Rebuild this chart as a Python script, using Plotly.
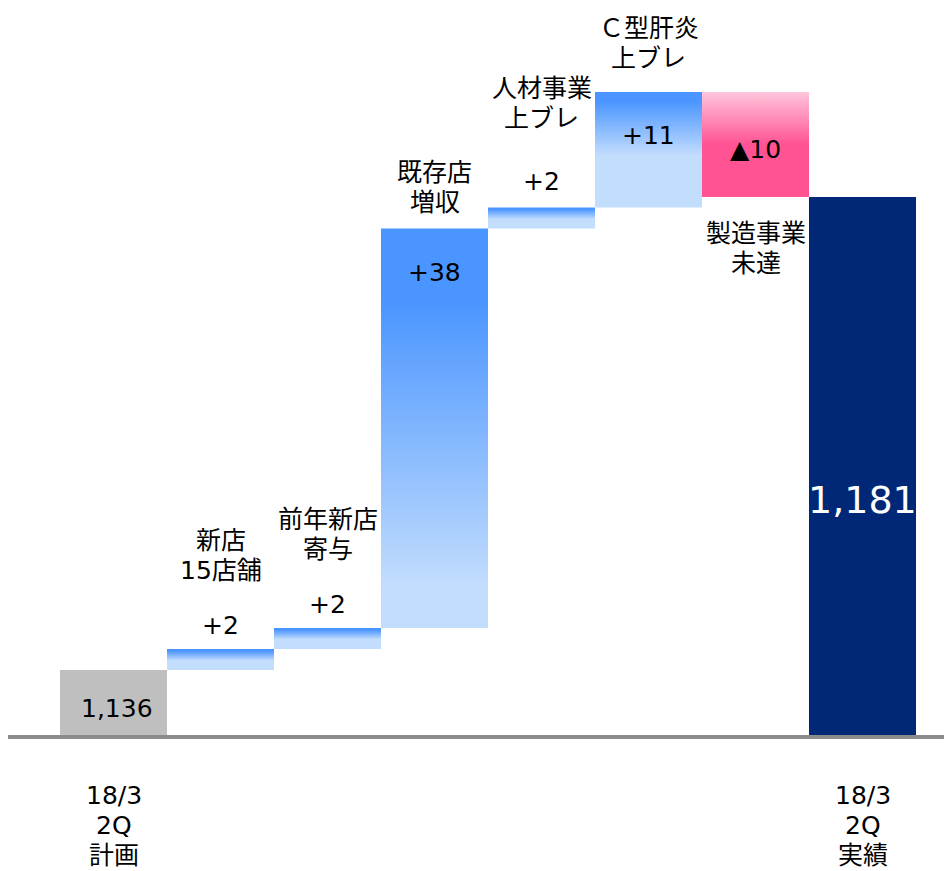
import plotly.graph_objects as go

# ---- data ----
categories = ["18/3 2Q 計画", "新店15店舗", "前年新店寄与", "既存店増収", "人材事業上ブレ",
              "Ｃ型肝炎上ブレ", "製造事業未達", "18/3 2Q 実績"]
category_labels = ["", "新店<br>15店舗", "前年新店<br>寄与", "既存店<br>増収", "人材事業<br>上ブレ",
                   "Ｃ型肝炎<br>上ブレ", "製造事業<br>未達", ""]
start_value = 1136
deltas = [2, 2, 38, 2, 11, -10]
end_value = 1181
value_texts = ["1,136", "+2", "+2", "+38", "+2", "+11", "▲10", "1,181"]
tick_labels = ["18/3<br>2Q<br>計画", "18/3<br>2Q<br>実績"]

# ---- style ----
FONT = "DejaVu Sans, Noto Sans CJK JP, sans-serif"
FS = 25
LINE = 30
BLUE_D = "#4a95ff"
BLUE_L = "#c3ddfd"
PINK_L = "#ffc6dd"
PINK_D = "#ff5394"
GRAY = "#bfbfbf"
NAVY = "#002876"
LABEL_EXTRA = [0, 0, 0, 0, 11, 7, 0, 0]
VALUE_EXTRA = [0, 0, 0, 0, 3, 0, 0, 0]

W, H = 944, 871
ML, MR, MT, MB = 8, 0, 0, 136
BAR_PX = 107.0
PX_PER_UNIT = 473 / 45.0
y_min = start_value - 65 / PX_PER_UNIT
y_max = y_min + (H - MT - MB) / PX_PER_UNIT
x_min = -105.5 / BAR_PX
x_max = x_min + (W - ML - MR) / BAR_PX

fig = go.Figure()
annotations = []


def add_lines(x, y, text, center_shift, size=FS, color="black", yref="y"):
    lines = text.split("<br>")
    n_l = len(lines)
    for j, ln in enumerate(lines):
        annotations.append(dict(x=x, y=y, xref="x", yref=yref, text=ln, showarrow=False,
                                yanchor="middle",
                                yshift=center_shift + ((n_l - 1) / 2 - j) * LINE,
                                font=dict(size=size, color=color)))


# start bar
fig.add_trace(go.Bar(x=[0], y=[start_value - y_min], base=[y_min], width=1.0,
                     marker=dict(color=GRAY, line=dict(width=0)), showlegend=False, hoverinfo="skip"))
annotations.append(dict(x=0, y=start_value, text=value_texts[0], showarrow=False,
                        yanchor="middle", yshift=-38, xshift=3, font=dict(size=FS, color="black")))

# delta bars
level = start_value
for k, d in enumerate(deltas):
    i = k + 1
    lo, hi = (level, level + d) if d > 0 else (level + d, level)
    xs = [i - 0.5, i + 0.5, i + 0.5, i - 0.5, i - 0.5]
    ys = [lo, lo, hi, hi, lo]
    if d > 0:
        if abs(d) > 20:
            cs = [[0, BLUE_D], [0.18, BLUE_D], [0.9, BLUE_L], [1, BLUE_L]]
        else:
            cs = [[0, BLUE_D], [0.08, BLUE_D], [0.55, BLUE_L], [1, BLUE_L]]
    else:
        cs = [[0, PINK_L], [0.5, PINK_D], [1, PINK_D]]
    fig.add_trace(go.Scatter(x=xs, y=ys, mode="lines", fill="toself", line=dict(width=0),
                             fillgradient=dict(type="vertical", colorscale=cs, start=hi, stop=lo),
                             showlegend=False, hoverinfo="skip"))
    h_units = hi - lo
    if d > 0 and h_units < 5:
        add_lines(i, hi, value_texts[i], 23 + VALUE_EXTRA[i])
        add_lines(i, hi, category_labels[i], 93 + LABEL_EXTRA[i])
    elif d > 0:
        add_lines(i, hi, value_texts[i], -44 + VALUE_EXTRA[i])
        add_lines(i, hi, category_labels[i], 41 + LABEL_EXTRA[i])
    else:
        add_lines(i, (hi + lo) / 2, value_texts[i], -5)
        add_lines(i, lo, category_labels[i], -51)
    level += d

# end bar
n = len(categories) - 1
fig.add_trace(go.Bar(x=[n], y=[end_value - y_min], base=[y_min], width=1.0,
                     marker=dict(color=NAVY, line=dict(width=0)), showlegend=False, hoverinfo="skip"))
annotations.append(dict(x=n, y=end_value, text=value_texts[-1], showarrow=False,
                        yanchor="middle", yshift=-303, font=dict(size=38, color="white")))

# category tick labels under the axis
for xi, tl in zip([0, n], tick_labels):
    add_lines(xi, 0, tl, -90, yref="paper")

fig.update_layout(
    width=W, height=H,
    margin=dict(l=ML, r=MR, t=MT, b=MB),
    paper_bgcolor="white", plot_bgcolor="white",
    font=dict(family=FONT, size=FS, color="black"),
    annotations=annotations,
    barmode="overlay",
    xaxis=dict(range=[x_min, x_max], showticklabels=False,
               showgrid=False, zeroline=False, showline=True, linecolor="#8c8c8c", linewidth=4,
               ticks=""),
    yaxis=dict(range=[y_min, y_max], visible=False, showgrid=False, zeroline=False),
)

fig.write_html("out.html", config={"displayModeBar": False},
               post_script="document.body.style.margin='0';document.body.style.overflow='hidden';")
